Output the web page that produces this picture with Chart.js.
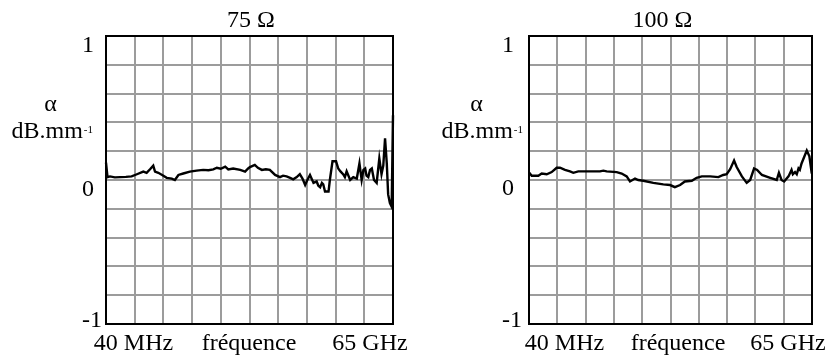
<!DOCTYPE html>
<html><head><meta charset="utf-8">
<script src="https://cdn.jsdelivr.net/npm/chart.js@4/dist/chart.umd.min.js"></script>
<style>
body{margin:0;background:#fff;width:830px;height:358px;position:relative;overflow:hidden}
.c{position:absolute;top:0;width:415px;height:358px}
</style>
</head><body>
<div class="c" style="left:0"><canvas id="c1" width="415" height="358"></canvas></div>
<div class="c" style="left:415px"><canvas id="c2" width="415" height="358"></canvas></div>
<script>
// ---- data ----
const titles = ['75 Ω', '100 Ω'];
const yTickValues = [1, 0, -1];
const yTickLabels = ['1', '0', '-1'];
const xLabels = ['40 MHz', 'fréquence', '65 GHz'];
const yUnitSymbol = 'α';
const yUnitText = 'dB.mm';
const yUnitExp = '-1';

const freq75 = [0, 0.34, 0.9, 2.0, 3.2, 4.5, 5.8, 7.0, 8.45, 9.2, 9.97, 10.7, 11.1, 11.85, 13.0, 13.75, 14.9, 15.6, 16.4, 17.5, 19.0, 20.5, 22.0, 23.2, 24.3, 25.1, 26.0, 27.0, 27.7, 28.8, 30.4, 31.5, 32.2, 32.6, 33.7, 34.4, 35.3, 36.2, 37.1, 38.3, 39.4, 40.1, 40.9, 41.7, 42.4, 43.2, 43.9, 44.5, 45.1, 45.6, 46.2, 47.0, 47.7, 48.1, 48.5, 48.9, 49.2, 49.6, 50.4, 50.7, 51.3, 52.1, 52.6, 53.1, 53.7, 54.1, 54.5, 55.3, 56.0, 56.8, 57.4, 57.9, 58.3, 58.7, 59.0, 59.4, 59.8, 60.2, 60.7, 61.3, 61.9, 62.4, 62.8, 63.2, 63.6, 63.9, 64.3, 64.7, 65.0];
const alpha75 = [0.12, 0.02, 0.025, 0.018, 0.02, 0.022, 0.025, 0.04, 0.058, 0.05, 0.075, 0.10, 0.058, 0.05, 0.03, 0.015, 0.01, 0.0, 0.035, 0.045, 0.058, 0.065, 0.07, 0.068, 0.074, 0.085, 0.078, 0.093, 0.074, 0.08, 0.07, 0.058, 0.08, 0.09, 0.105, 0.085, 0.07, 0.075, 0.07, 0.035, 0.02, 0.03, 0.025, 0.015, 0.005, 0.02, 0.04, 0.01, -0.035, 0.0, 0.035, -0.02, -0.01, -0.04, -0.05, -0.02, -0.03, -0.08, -0.08, 0.0, 0.13, 0.13, 0.08, 0.06, 0.04, 0.02, 0.06, 0.0, 0.02, 0.01, 0.115, 0.0, 0.07, 0.08, 0.03, 0.02, 0.07, 0.08, 0.0, -0.02, 0.15, 0.04, 0.10, 0.29, 0.11, -0.10, -0.16, -0.185, 0.45];

const freq100 = [0.07, 0.62, 2.14, 2.92, 4.07, 5.21, 6.36, 7.12, 8.27, 9.42, 10.18, 11.32, 14.0, 16.3, 17.07, 17.85, 20.14, 21.29, 22.44, 23.2, 24.35, 25.1, 26.25, 28.55, 30.85, 32.4, 33.5, 34.7, 35.8, 37.4, 38.5, 39.7, 41.6, 43.5, 44.6, 45.4, 46.2, 47.1, 47.7, 48.9, 50.0, 50.8, 51.7, 52.4, 53.5, 55.4, 56.9, 57.4, 58.0, 58.6, 59.6, 60.3, 60.6, 61.1, 61.5, 61.9, 62.2, 62.6, 63.8, 64.4, 64.95];
const alpha100 = [0.05, 0.03, 0.03, 0.045, 0.04, 0.055, 0.085, 0.085, 0.07, 0.06, 0.05, 0.06, 0.06, 0.06, 0.065, 0.06, 0.055, 0.045, 0.025, -0.01, 0.01, 0.0, -0.005, -0.02, -0.03, -0.035, -0.05, -0.035, -0.01, -0.005, 0.015, 0.025, 0.025, 0.02, 0.035, 0.04, 0.075, 0.135, 0.09, 0.025, -0.02, 0.0, 0.08, 0.07, 0.035, 0.015, 0.0, 0.05, 0.0, -0.01, 0.025, 0.07, 0.04, 0.055, 0.04, 0.08, 0.07, 0.115, 0.205, 0.165, 0.045];

// ---- layout / style (not data) ----
const FONT = '"Liberation Serif", "Times New Roman", serif';
const panels = [
  { id: 'c1', freq: freq75, alpha: alpha75, title: titles[0],
    pad: { left: 106, right: 22, top: 36, bottom: 34 },
    titleX: 251, tickX: 82, tickDy: [16, 16, 3],
    alphaX: 50.5, unitX: 11.5, xLabelX: [133.5, 249, 370] },
  { id: 'c2', freq: freq100, alpha: alpha100, title: titles[1],
    pad: { left: 114, right: 18, top: 36, bottom: 34 },
    titleX: 247.5, tickX: 87, tickDy: [16, 15, 3],
    alphaX: 61.5, unitX: 26.5, xLabelX: [149.5, 263, 373] }
];

const framePlugin = {
  id: 'frame',
  beforeDatasetsDraw(chart) {
    const a = chart.chartArea, ctx = chart.ctx;
    ctx.save();
    ctx.strokeStyle = '#000';
    ctx.lineWidth = 2;
    ctx.strokeRect(a.left, a.top, a.right - a.left, a.bottom - a.top);
    ctx.restore();
  }
};

const textPlugin = {
  id: 'texts',
  afterDraw(chart) {
    const p = chart.options.plugins.texts;
    const ctx = chart.ctx, y = chart.scales.y;
    ctx.save();
    ctx.fillStyle = '#000';
    ctx.textBaseline = 'alphabetic';
    ctx.font = '24px ' + FONT;
    ctx.textAlign = 'center';
    ctx.fillText(p.title, p.titleX, 27);
    ctx.textAlign = 'left';
    yTickValues.forEach((v, i) => {
      ctx.fillText(yTickLabels[i], p.tickX, y.getPixelForValue(v) + p.tickDy[i]);
    });
    ctx.textAlign = 'center';
    ctx.fillText(yUnitSymbol, p.alphaX, 111);
    ctx.textAlign = 'left';
    ctx.fillText(yUnitText, p.unitX, 138);
    const w = ctx.measureText(yUnitText).width;
    ctx.font = '11px ' + FONT;
    ctx.fillText(yUnitExp, p.unitX + w + 1, 133);
    ctx.font = '24px ' + FONT;
    ctx.textAlign = 'center';
    xLabels.forEach((t, i) => ctx.fillText(t, p.xLabelX[i], 350));
    ctx.restore();
  }
};

panels.forEach(p => {
  const pts = p.freq.map((f, i) => ({ x: f, y: p.alpha[i] }));
  new Chart(document.getElementById(p.id), {
    type: 'line',
    data: { datasets: [{ data: pts, borderColor: '#000', borderWidth: 2.4,
      pointRadius: 0, tension: 0, fill: false, clip: false }] },
    options: {
      responsive: false, animation: false, devicePixelRatio: 1,
      layout: { padding: p.pad },
      plugins: { legend: { display: false }, tooltip: { enabled: false },
        texts: p },
      scales: {
        x: { type: 'linear', min: 0, max: 65,
          afterBuildTicks: s => { s.ticks = Array.from({ length: 11 }, (_, i) => ({ value: i * 6.5 })); },
          afterFit: s => { s.height = 0; },
          ticks: { display: false },
          grid: { color: '#9c9c9c', lineWidth: 2, drawTicks: false },
          border: { display: false } },
        y: { type: 'linear', min: -1, max: 1,
          afterBuildTicks: s => { s.ticks = Array.from({ length: 11 }, (_, i) => ({ value: -1 + i * 0.2 })); },
          afterFit: s => { s.width = 0; },
          ticks: { display: false },
          grid: { color: '#9c9c9c', lineWidth: 2, drawTicks: false },
          border: { display: false } }
      }
    },
    plugins: [framePlugin, textPlugin]
  });
});
</script>
</body></html>
